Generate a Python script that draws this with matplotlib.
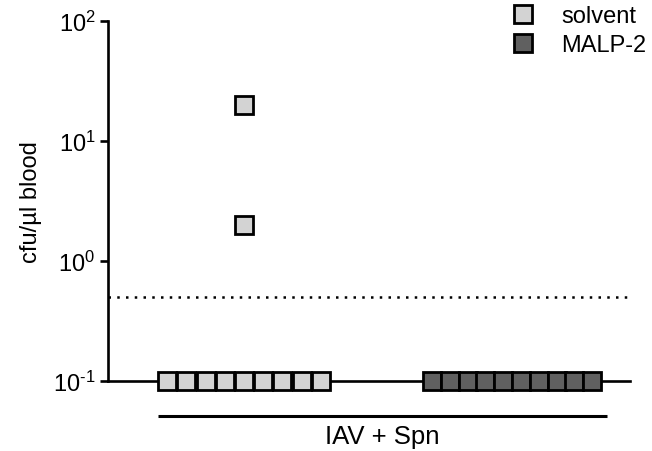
import matplotlib
matplotlib.use("Agg")
import matplotlib.pyplot as plt
import numpy as np

plt.rcParams['font.family'] = ['Liberation Sans', 'DejaVu Sans']
plt.rcParams['mathtext.fontset'] = 'custom'
plt.rcParams['mathtext.rm'] = 'Liberation Sans'
plt.rcParams['mathtext.it'] = 'Liberation Sans'
plt.rcParams['mathtext.default'] = 'regular'

groups = ["solvent", "MALP-2"]
colors = ["#d3d3d3", "#606060"]
# values above detection limit; others below (plotted at axis floor)
solvent_values = [20, 2]
solvent_below = 9
malp_values = []
malp_below = 10
detection_limit = 0.5
floor = 0.1
yticks = [0.1, 1, 10, 100]
ytick_labels = [r"$10^{\text{-}1}$", "$10^{0}$", "$10^{1}$", "$10^{2}$"]
xlabel = "IAV + Spn"
ylabel = "cfu/µl blood"

fig = plt.figure(figsize=(6.52, 4.52), dpi=100)
ax = fig.add_axes([108/652, 70/452, (630-108)/652, (382-22)/452])
ax.set_yscale('log')
ax.set_ylim(0.1, 100)
ax.set_xlim(0.4925, 2.44)

ms = 12.5
mew = 2.0
series = [(1, solvent_values, solvent_below, 0.0717),
          (2, malp_values, malp_below, 0.0664)]
handles = []
for (xc, vals, nb, sp), col, name in zip(series, colors, groups):
    if vals:
        ax.plot([xc]*len(vals), vals, 's', ms=ms, mfc=col, mec='black', mew=mew,
                clip_on=False, zorder=5, snap=False)
    xs = xc + (np.arange(nb) - (nb-1)/2) * sp
    ax.plot(xs, [floor]*nb, 's', ms=ms, mfc=col, mec='black', mew=mew,
            clip_on=False, zorder=5, snap=False)
    h, = ax.plot([], [], 's', ms=ms, mfc=col, mec='black', mew=mew, label=name)
    handles.append(h)

ax.axhline(detection_limit, color='black', lw=1.8, linestyle=(0, (1, 2.5)), zorder=2)

for s in ['top', 'right']:
    ax.spines[s].set_visible(False)
for s in ['left', 'bottom']:
    ax.spines[s].set_linewidth(1.9)
ax.set_yticks(yticks)
ax.set_yticklabels(ytick_labels, fontsize=17)
ax.yaxis.set_minor_locator(matplotlib.ticker.NullLocator())
ax.tick_params(axis='y', length=6, width=1.9, direction='out', pad=3)
ax.set_xticks([])
ax.set_ylabel(ylabel, fontsize=17, labelpad=8)

# group bar under axis
ax.plot([(158-108)/522, (607-108)/522], [-0.097, -0.097], transform=ax.transAxes,
        color='black', lw=2.2, clip_on=False, solid_capstyle='butt')
ax.text((382-108)/522, -0.152, xlabel, transform=ax.transAxes, ha='center', va='center',
        fontsize=18.5)

leg = fig.legend(handles=handles, loc='upper left', bbox_to_anchor=(509/652, 1-6/452),
                 bbox_transform=fig.transFigure,
                 frameon=False, fontsize=17, handletextpad=1.0, labelspacing=0.3,
                 handlelength=1.2, borderaxespad=0, borderpad=0)

fig.savefig("out.png", dpi=100)
